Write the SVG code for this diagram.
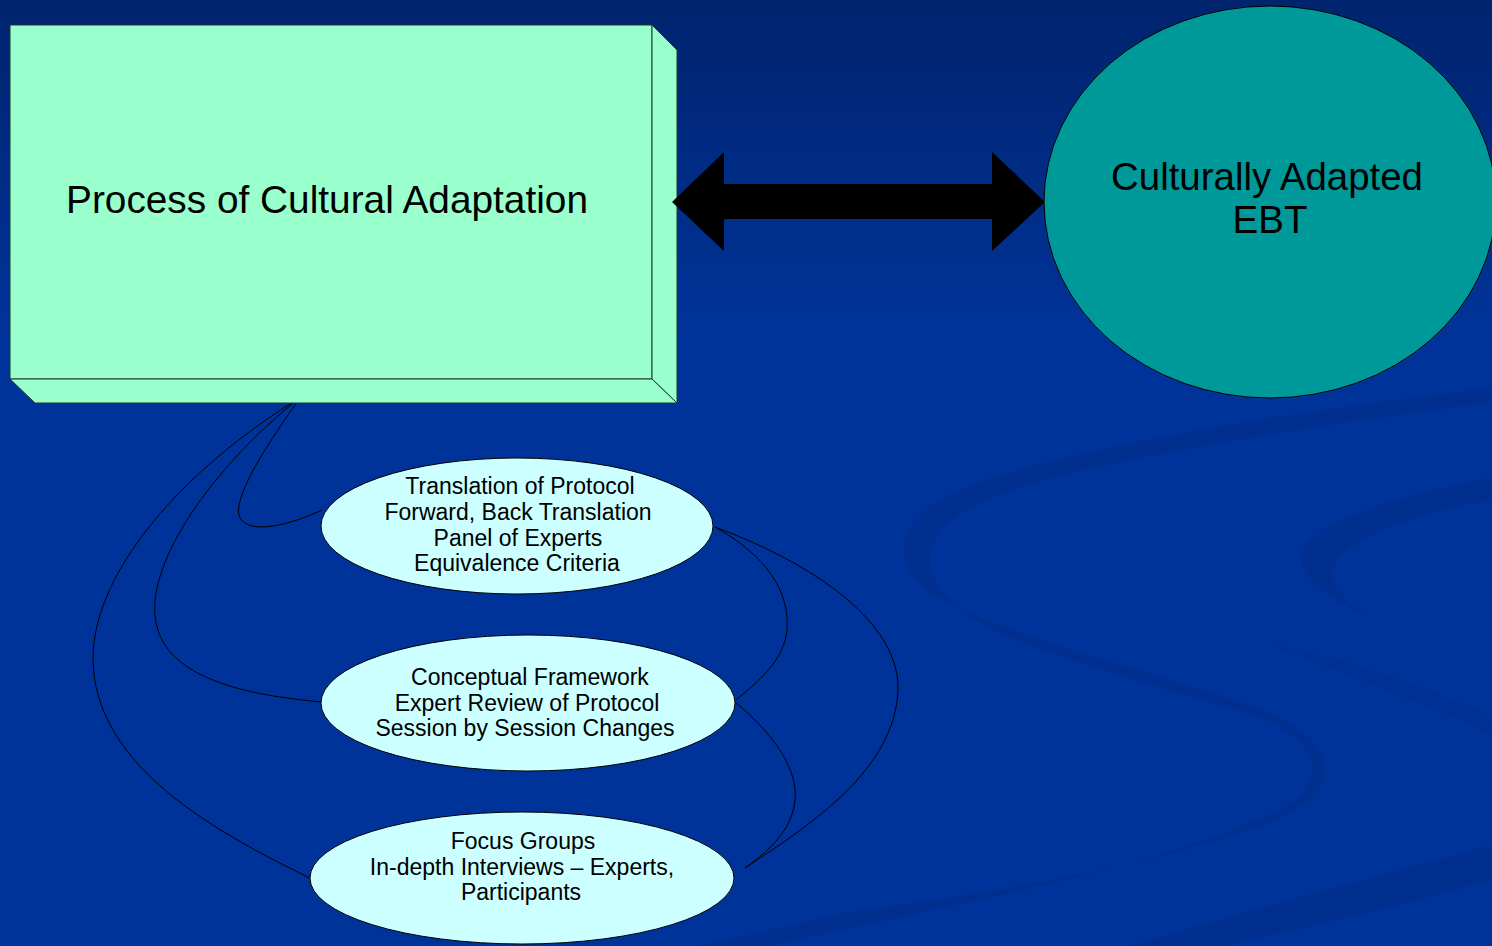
<svg xmlns="http://www.w3.org/2000/svg" width="1492" height="946" viewBox="0 0 1492 946">
<defs>
<linearGradient id="bg" x1="0" y1="0" x2="0" y2="1">
<stop offset="0" stop-color="#00246E"/>
<stop offset="0.35" stop-color="#003399"/>
<stop offset="1" stop-color="#003399"/>
</linearGradient>
<style>
.t{font-family:"Liberation Sans",Arial,sans-serif;fill:#000;text-anchor:middle}
.big{font-size:38.5px}
.sm{font-size:23px}
.face{fill:#99FFCC;stroke:#1a3a2a;stroke-width:1}
.oval{fill:#CCFFFF;stroke:#000;stroke-width:1}
.con{fill:none;stroke:#000;stroke-width:1}
.swirl{fill:#002F90}
</style>
</defs>
<rect x="0" y="0" width="1492" height="946" fill="url(#bg)"/>
<g id="background-swirls">
<path class="swirl" d="M1492,388 C1300,410 1050,450 960,490 C895,518 885,565 935,595 C995,632 1120,662 1250,705 C1325,732 1345,772 1305,803 C1235,852 1000,892 850,912 C800,922 750,935 700,946 L770,946 C900,915 1200,862 1292,802 C1333,772 1312,732 1242,712 C1112,672 992,642 952,602 C918,570 920,532 982,502 C1062,464 1300,428 1492,402 Z"/>
<path class="swirl" d="M1492,478 C1420,490 1330,515 1305,545 C1290,570 1320,595 1370,617 C1338,597 1322,577 1340,557 C1370,527 1440,508 1492,500 Z"/>
<path class="swirl" opacity="0.6" d="M1265,643 C1350,658 1430,688 1492,716 L1492,735 C1430,706 1350,676 1265,643 Z"/>
<path class="swirl" d="M1130,946 C1250,910 1400,870 1492,845 L1492,880 C1420,900 1300,930 1220,946 Z"/>
</g>
<g id="connectors">
<path class="con" d="M300,398 C270,440 230,500 240,518 C250,535 290,525 322,510"/>
<path class="con" d="M297,400 C210,470 150,560 155,615 C160,680 250,695 321,702"/>
<path class="con" d="M293,402 C170,480 92,580 93,660 C95,760 200,825 310,878"/>
<path class="con" d="M715,527 C765,555 790,590 787,630 C784,660 760,680 736,700"/>
<path class="con" d="M715,527 C830,570 900,630 898,690 C895,770 810,825 745,868"/>
<path class="con" d="M736,703 C775,735 798,770 795,800 C792,830 770,850 745,868"/>
</g>
<g id="process-box">
<rect class="face" x="10" y="25" width="642" height="354"/>
<polygon class="face" points="652,25 677,50 677,403 652,379"/>
<polygon class="face" points="10,379 652,379 677,403 35,403"/>
<text class="t big" x="327" y="213" textLength="522" lengthAdjust="spacingAndGlyphs">Process of Cultural Adaptation</text>
</g>
<g id="double-arrow">
<polygon fill="#000" points="672,202 724,152 724,184 992,184 992,152 1045,202 992,251 992,219 724,219 724,251"/>
</g>
<g id="adapted-ebt">
<ellipse cx="1270" cy="202" rx="226" ry="196" fill="#009999" stroke="#000" stroke-width="1"/>
<text class="t big" x="1267" y="190" textLength="312" lengthAdjust="spacingAndGlyphs">Culturally Adapted</text>
<text class="t big" x="1270" y="233">EBT</text>
</g>
<g id="translation">
<ellipse class="oval" cx="517" cy="526" rx="196" ry="68"/>
<text class="t sm" x="520" y="494">Translation of Protocol</text>
<text class="t sm" x="518" y="520">Forward, Back Translation</text>
<text class="t sm" x="518" y="546">Panel of Experts</text>
<text class="t sm" x="517" y="571">Equivalence Criteria</text>
</g>
<g id="conceptual">
<ellipse class="oval" cx="528" cy="703" rx="207" ry="68"/>
<text class="t sm" x="530" y="685">Conceptual Framework</text>
<text class="t sm" x="527" y="711">Expert Review of Protocol</text>
<text class="t sm" x="525" y="736">Session by Session Changes</text>
</g>
<g id="focus">
<ellipse class="oval" cx="522" cy="878" rx="212" ry="66"/>
<text class="t sm" x="523" y="849">Focus Groups</text>
<text class="t sm" x="522" y="875">In-depth Interviews – Experts,</text>
<text class="t sm" x="521" y="900">Participants</text>
</g>
</svg>
